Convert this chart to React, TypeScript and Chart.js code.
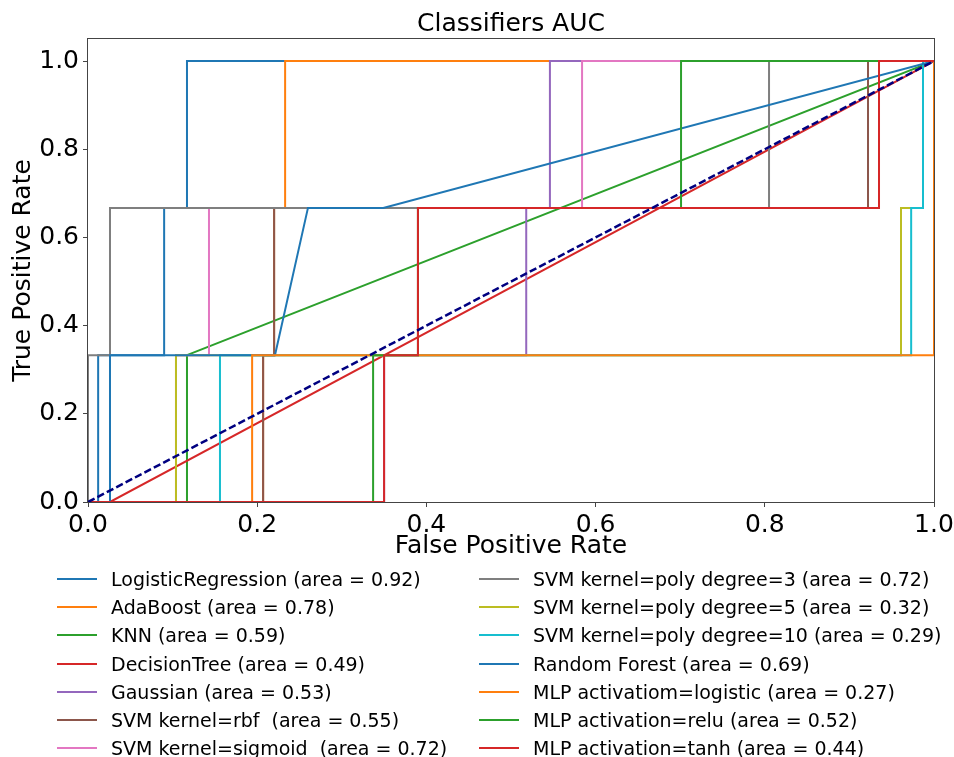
import React, { useEffect, useRef } from 'react';
import { Chart, registerables } from 'chart.js';
Chart.register(...registerables);

const FONT = 'DejaVu Sans';

// ROC curve vertices (false positive rate / true positive rate)
const lrFpr = [0, 0.012, 0.012, 0.09, 0.09, 0.117, 0.117, 1];
const lrTpr = [0, 0, 0.333, 0.333, 0.667, 0.667, 1, 1];
const adaFpr = [0, 0.207, 0.207, 0.22, 0.22, 0.233, 0.233, 1];
const adaTpr = [0, 0, 0.333, 0.333, 0.667, 0.667, 1, 1];
const knnFpr = [0, 0.117, 0.117, 1];
const knnTpr = [0, 0, 0.333, 1];
const dtFpr = [0, 0.026, 1];
const dtTpr = [0, 0, 1];
const gaussFpr = [0, 0.35, 0.35, 0.518, 0.518, 0.546, 0.546, 1];
const gaussTpr = [0, 0, 0.333, 0.333, 0.667, 0.667, 1, 1];
const rbfFpr = [0, 0.207, 0.207, 0.22, 0.22, 0.922, 0.922, 1];
const rbfTpr = [0, 0, 0.333, 0.333, 0.667, 0.667, 1, 1];
const sigFpr = [0, 0.104, 0.104, 0.143, 0.143, 0.584, 0.584, 1];
const sigTpr = [0, 0, 0.333, 0.333, 0.667, 0.667, 1, 1];
const poly3Fpr = [0, 0, 0.026, 0.026, 0.805, 0.805, 1];
const poly3Tpr = [0, 0.333, 0.333, 0.667, 0.667, 1, 1];
const poly5Fpr = [0, 0.104, 0.104, 0.961, 0.961, 0.987, 0.987, 1];
const poly5Tpr = [0, 0, 0.333, 0.333, 0.667, 0.667, 1, 1];
const poly10Fpr = [0, 0.156, 0.156, 0.973, 0.973, 0.987, 0.987, 1];
const poly10Tpr = [0, 0, 0.333, 0.333, 0.667, 0.667, 1, 1];
const rfFpr = [0, 0.026, 0.026, 0.221, 0.26, 0.349, 1];
const rfTpr = [0, 0, 0.333, 0.333, 0.667, 0.667, 1];
const mlpLogFpr = [0, 0.194, 0.194, 1, 1];
const mlpLogTpr = [0, 0, 0.333, 0.333, 1];
const reluFpr = [0, 0.337, 0.337, 0.39, 0.39, 0.701, 0.701, 1];
const reluTpr = [0, 0, 0.333, 0.333, 0.667, 0.667, 1, 1];
const tanhFpr = [0, 0.35, 0.35, 0.39, 0.39, 0.935, 0.935, 1];
const tanhTpr = [0, 0, 0.333, 0.333, 0.667, 0.667, 1, 1];
const chanceFpr = [0, 1];
const chanceTpr = [0, 1];

const labels = [
  'LogisticRegression (area = 0.92)',
  'AdaBoost (area = 0.78)',
  'KNN (area = 0.59)',
  'DecisionTree (area = 0.49)',
  'Gaussian (area = 0.53)',
  'SVM kernel=rbf  (area = 0.55)',
  'SVM kernel=sigmoid  (area = 0.72)',
  'SVM kernel=poly degree=3 (area = 0.72)',
  'SVM kernel=poly degree=5 (area = 0.32)',
  'SVM kernel=poly degree=10 (area = 0.29)',
  'Random Forest (area = 0.69)',
  'MLP activatiom=logistic (area = 0.27)',
  'MLP activation=relu (area = 0.52)',
  'MLP activation=tanh (area = 0.44)',
];
const fprs = [lrFpr, adaFpr, knnFpr, dtFpr, gaussFpr, rbfFpr, sigFpr, poly3Fpr, poly5Fpr, poly10Fpr, rfFpr, mlpLogFpr, reluFpr, tanhFpr];
const tprs = [lrTpr, adaTpr, knnTpr, dtTpr, gaussTpr, rbfTpr, sigTpr, poly3Tpr, poly5Tpr, poly10Tpr, rfTpr, mlpLogTpr, reluTpr, tanhTpr];
const palette = ['#1f77b4', '#ff7f0e', '#2ca02c', '#d62728', '#9467bd', '#8c564b', '#e377c2', '#7f7f7f', '#bcbd22', '#17becf'];
const xTicks = [0, 0.2, 0.4, 0.6, 0.8, 1.0];
const yTicks = [0, 0.2, 0.4, 0.6, 0.8, 1.0];

const spinePlugin = {
  id: 'spines',
  afterDatasetsDraw(chart: any) {
    const { ctx, chartArea: a } = chart;
    ctx.save();
    ctx.strokeStyle = '#444';
    ctx.lineWidth = 1;
    ctx.strokeRect(Math.round(a.left) - 0.5, Math.round(a.top) - 0.5, Math.round(a.right - a.left) + 1, Math.round(a.bottom - a.top) + 1);
    ctx.restore();
  },
};

export default function App() {
  const ref = useRef<HTMLCanvasElement>(null);
  useEffect(() => {
    const datasets: any[] = labels.map((label, i) => ({
      label,
      data: fprs[i].map((x, j) => ({ x, y: tprs[i][j] })),
      borderColor: palette[i % 10],
      backgroundColor: palette[i % 10],
      borderWidth: 2,
      pointRadius: 0,
      showLine: true,
      fill: false,
      tension: 0,
      order: 100 - i,
      clip: 0,
    }));
    datasets.push({
      label: 'chance',
      data: chanceFpr.map((x, j) => ({ x, y: chanceTpr[j] })),
      borderColor: '#000080',
      borderWidth: 2.5,
      borderDash: [7.4, 3.2],
      pointRadius: 0,
      showLine: true,
      fill: false,
      order: 0,
      clip: 0,
    });
    const tickFont = { family: FONT, size: 25 };
    const chart = new Chart(ref.current as HTMLCanvasElement, {
      type: 'scatter',
      data: { datasets },
      plugins: [spinePlugin],
      options: {
        responsive: false,
        animation: false,
        devicePixelRatio: 1,
        layout: { padding: { left: 0, right: 20, top: 0, bottom: 185 } },
        plugins: {
          legend: { display: false },
          tooltip: { enabled: false },
          title: {
            display: true,
            text: 'Classifiers AUC',
            color: '#000',
            fullSize: false,
            font: { family: FONT, size: 25, weight: 'normal' },
            padding: { top: 9, bottom: 0 },
          },
        },
        scales: {
          x: {
            type: 'linear',
            min: 0,
            max: 1,
            afterBuildTicks: (s: any) => { s.ticks = xTicks.map((v) => ({ value: v })); },
            afterFit: (s: any) => { s.height = 70; s.paddingRight = 0; s.paddingLeft = 0; },
            ticks: { color: '#000', font: tickFont, padding: 3, maxRotation: 0, autoSkip: false, callback: (v: any) => Number(v).toFixed(1) },
            grid: { display: true, drawOnChartArea: false, drawTicks: true, tickLength: 5, color: '#444' },
            border: { display: false },
            title: { display: true, text: 'False Positive Rate', color: '#000', font: tickFont, padding: { top: 0, bottom: 11 } },
          },
          y: {
            type: 'linear',
            min: 0,
            max: 1.05,
            afterBuildTicks: (s: any) => { s.ticks = yTicks.map((v) => ({ value: v })); },
            afterFit: (s: any) => { s.width = 88; s.paddingTop = 0; s.paddingBottom = 0; },
            ticks: { color: '#000', font: tickFont, padding: 4, autoSkip: false, callback: (v: any) => Number(v).toFixed(1) },
            grid: { display: true, drawOnChartArea: false, drawTicks: true, tickLength: 5, color: '#444' },
            border: { display: false },
            title: { display: true, text: 'True Positive Rate', color: '#000', font: tickFont, padding: { top: 8, bottom: 0 } },
          },
        },
      } as any,
    });
    return () => chart.destroy();
  }, []);

  const rowY = (r: number) => 579 + r * 28.2;
  return (
    <div style={{ position: 'absolute', left: 0, top: 0, width: 954, height: 757, overflow: 'hidden', background: '#fff' }}>
      <canvas ref={ref} width={954} height={757} style={{ display: 'block', width: 954, height: 757 }} />
      {labels.map((label, i) => {
        const col = i < 7 ? 0 : 1;
        const row = i % 7;
        const hx = col === 0 ? 57 : 479;
        const tx = col === 0 ? 111 : 533;
        const y = rowY(row);
        return (
          <React.Fragment key={label}>
            <div style={{ position: 'absolute', left: hx, top: y - 1, width: 40, height: 2, background: palette[i % 10] }} />
            <div style={{ position: 'absolute', left: tx, top: y - 12, height: 24, lineHeight: '24px', fontFamily: FONT, fontSize: 19, color: '#000', whiteSpace: 'pre' }}>{label}</div>
          </React.Fragment>
        );
      })}
    </div>
  );
}
